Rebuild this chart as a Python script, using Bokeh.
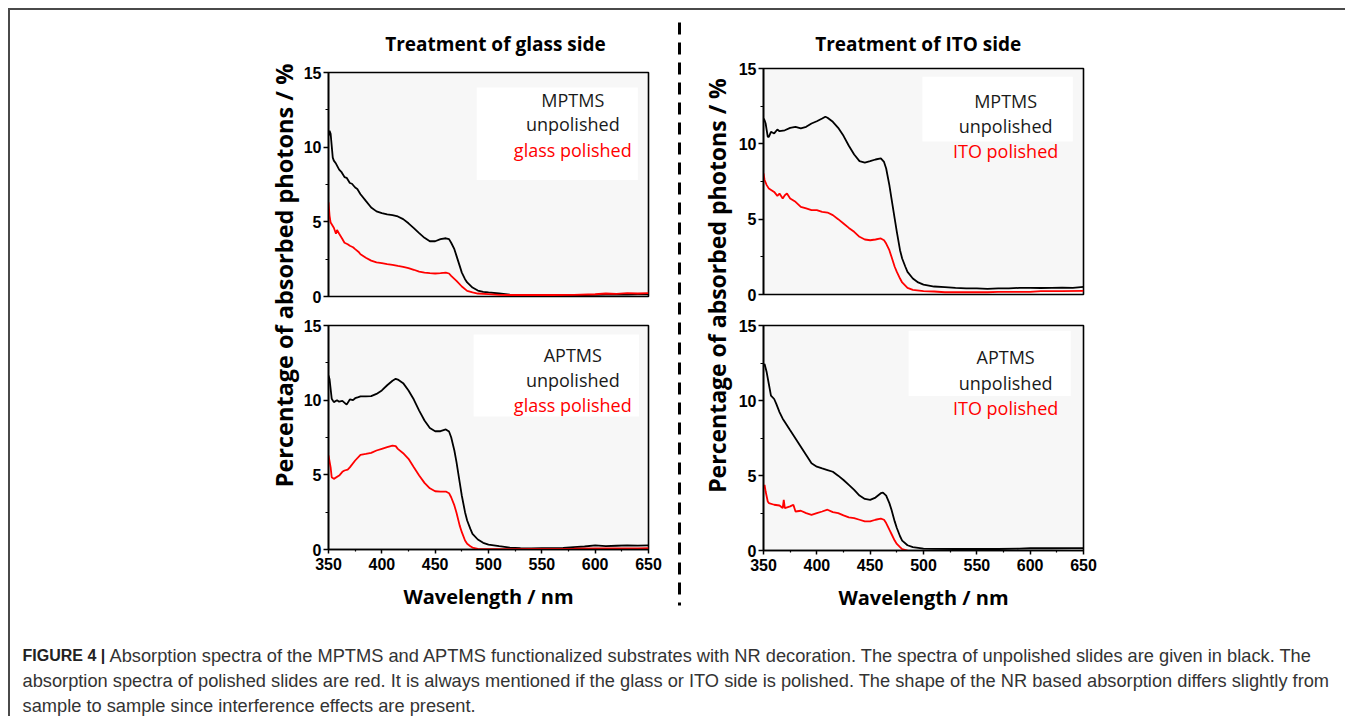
from math import pi
from bokeh.plotting import figure
from bokeh.layouts import column, row
from bokeh.models import Range1d, FixedTicker, Spacer
from bokeh.core.properties import value
from bokeh.embed import file_html
from bokeh.resources import INLINE

# ---------------- data ----------------
TL_K_WL = [350, 351, 352, 354, 355, 357, 360, 362, 365, 367, 370, 372, 375, 377, 380, 385, 390, 395, 400, 405,
           410, 415, 420, 425, 430, 435, 440, 445, 450, 455, 460, 463, 465, 468, 470, 473, 475, 478, 480, 485,
           490, 495, 500, 510, 520, 530, 540, 550, 560, 570, 580, 590, 600, 610, 620, 630, 640, 650]
TL_K = [10.75, 11.1, 10.9, 9.3, 9.1, 8.9, 8.5, 8.35, 8.0, 7.95, 7.6, 7.55, 7.3, 7.2, 6.85, 6.4, 5.96, 5.7, 5.58, 5.5,
        5.45, 5.36, 5.18, 4.9, 4.58, 4.24, 3.93, 3.7, 3.7, 3.84, 3.9, 3.84, 3.6, 3.17, 2.72, 2.05, 1.6, 1.16, 0.94, 0.6,
        0.4, 0.31, 0.27, 0.2, 0.13, 0.1, 0.09, 0.08, 0.08, 0.09, 0.1, 0.1, 0.11, 0.12, 0.12, 0.13, 0.14, 0.15]
TL_R_WL = [350, 351, 352, 355, 357, 358, 360, 363, 365, 368, 370, 373, 375, 378, 380, 385, 390, 395, 400, 405,
           410, 415, 420, 425, 430, 435, 440, 445, 450, 455, 460, 463, 465, 470, 475, 480, 485, 490, 500, 510,
           520, 540, 560, 580, 600, 610, 620, 630, 640, 650]
TL_R = [6.3, 5.4, 4.95, 4.6, 4.2, 4.45, 4.2, 3.85, 3.6, 3.5, 3.4, 3.3, 3.17, 3.0, 2.83, 2.6, 2.4, 2.28, 2.23, 2.17,
        2.12, 2.05, 1.99, 1.9, 1.79, 1.67, 1.6, 1.56, 1.54, 1.56, 1.6, 1.54, 1.38, 1.05, 0.67, 0.38, 0.27, 0.2, 0.16, 0.11,
        0.1, 0.1, 0.1, 0.11, 0.15, 0.2, 0.18, 0.22, 0.2, 0.22]

BL_K_WL = [350, 351, 353, 355, 358, 360, 363, 367, 370, 373, 375, 378, 380, 385, 390, 395, 400, 405, 410, 413,
           415, 420, 425, 430, 435, 440, 445, 450, 455, 460, 463, 465, 468, 470, 473, 475, 478, 480, 483, 485,
           490, 495, 500, 510, 520, 530, 540, 550, 560, 570, 580, 590, 600, 610, 620, 630, 640, 650]
BL_K = [11.65, 11.4, 10.1, 9.87, 10.0, 9.9, 9.95, 9.7, 10.05, 10.0, 10.13, 10.2, 10.25, 10.25, 10.27, 10.42, 10.65, 11.0, 11.3, 11.43,
        11.38, 11.14, 10.65, 10.04, 9.3, 8.64, 8.13, 7.92, 7.92, 8.04, 7.9, 7.52, 6.63, 5.85, 4.5, 3.6, 2.5, 1.94, 1.38, 1.05,
        0.67, 0.45, 0.33, 0.22, 0.13, 0.09, 0.08, 0.09, 0.09, 0.1, 0.16, 0.2, 0.27, 0.22, 0.25, 0.27, 0.26, 0.28]
BL_R_WL = [350, 352, 353, 355, 360, 363, 365, 368, 370, 375, 380, 385, 390, 395, 400, 405, 410, 413, 415, 420,
           425, 430, 435, 440, 445, 450, 455, 460, 463, 465, 468, 470, 473, 475, 478, 480, 483, 485, 490, 500,
           520, 540, 560, 580, 600, 620, 640, 650]
BL_R = [6.3, 5.5, 4.84, 4.73, 4.95, 5.2, 5.29, 5.35, 5.5, 5.96, 6.34, 6.4, 6.47, 6.63, 6.74, 6.85, 6.96, 6.92, 6.74, 6.45,
        6.07, 5.51, 4.96, 4.46, 4.1, 3.9, 3.88, 3.88, 3.77, 3.5, 2.95, 2.46, 1.6, 1.16, 0.6, 0.38, 0.22, 0.13, 0.04, 0.03,
        0.03, 0.04, 0.04, 0.05, 0.07, 0.08, 0.08, 0.09]

TR_K_WL = [350, 351, 352, 354, 355, 357, 360, 363, 365, 370, 375, 380, 385, 390, 395, 400, 405, 408, 410, 415,
           420, 425, 430, 435, 440, 445, 450, 455, 460, 463, 465, 468, 470, 473, 475, 478, 480, 483, 485, 490,
           495, 500, 510, 520, 530, 540, 550, 560, 570, 580, 590, 600, 610, 620, 630, 640, 650]
TR_K = [11.68, 11.57, 11.35, 10.46, 10.46, 10.8, 10.69, 10.95, 10.84, 10.9, 11.06, 11.13, 11.02, 11.13, 11.35, 11.5, 11.68, 11.8, 11.73, 11.46,
        11.06, 10.53, 9.87, 9.29, 8.85, 8.76, 8.85, 8.96, 9.03, 8.8, 8.36, 7.26, 6.37, 5.04, 4.16, 2.94, 2.39, 1.84, 1.5, 1.06,
        0.8, 0.66, 0.53, 0.49, 0.44, 0.4, 0.4, 0.38, 0.4, 0.4, 0.44, 0.44, 0.43, 0.44, 0.45, 0.44, 0.5]
TR_R_WL = [350, 351, 353, 355, 360, 363, 365, 368, 370, 372, 375, 380, 385, 390, 395, 400, 405, 410, 415, 420,
           425, 430, 435, 440, 445, 450, 455, 460, 463, 465, 468, 470, 473, 475, 478, 480, 485, 490, 500, 510,
           520, 540, 560, 570, 590, 600, 610, 630, 650]
TR_R = [8.03, 7.6, 7.26, 7.04, 6.81, 6.55, 6.7, 6.37, 6.59, 6.7, 6.37, 6.15, 5.82, 5.71, 5.6, 5.6, 5.49, 5.44, 5.27, 5.0,
        4.71, 4.42, 4.16, 3.83, 3.65, 3.6, 3.65, 3.72, 3.6, 3.38, 2.94, 2.5, 1.84, 1.5, 1.06, 0.8, 0.44, 0.31, 0.22, 0.2,
        0.15, 0.15, 0.15, 0.18, 0.18, 0.18, 0.22, 0.22, 0.24]

BR_K_WL = [350, 351, 353, 355, 357, 360, 362, 365, 368, 370, 375, 380, 385, 390, 395, 400, 405, 410, 415, 420,
           425, 430, 435, 440, 445, 450, 455, 460, 462, 465, 468, 470, 473, 475, 478, 480, 485, 490, 500, 510,
           530, 550, 570, 590, 600, 620, 640, 650]
BR_K = [12.3, 12.43, 11.88, 11.1, 10.33, 10.1, 9.78, 9.23, 8.79, 8.57, 8.01, 7.46, 6.91, 6.36, 5.81, 5.59, 5.47, 5.36, 5.25, 4.99,
        4.7, 4.37, 4.04, 3.66, 3.44, 3.38, 3.53, 3.82, 3.86, 3.66, 3.16, 2.72, 1.94, 1.5, 0.95, 0.66, 0.35, 0.22, 0.13, 0.11,
        0.1, 0.11, 0.1, 0.12, 0.15, 0.15, 0.16, 0.16]
BR_R_WL = [350, 351, 352, 354, 355, 360, 365, 368, 369, 370, 375, 378, 380, 385, 390, 395, 400, 405, 410, 415,
           420, 425, 430, 435, 440, 445, 450, 455, 460, 463, 465, 468, 470, 473, 475, 478, 480, 485]
BR_R = [4.15, 4.37, 3.93, 3.27, 3.16, 3.05, 3.0, 2.83, 3.38, 2.83, 2.94, 3.05, 2.6, 2.65, 2.49, 2.38, 2.49, 2.6, 2.72, 2.56,
        2.49, 2.34, 2.21, 2.16, 2.05, 1.94, 1.94, 2.05, 2.12, 2.05, 1.83, 1.39, 1.1, 0.66, 0.44, 0.22, 0.09, 0.0]

X_TICKS = [350, 400, 450, 500, 550, 600, 650]
X_MINOR = [375, 425, 475, 525, 575, 625]
Y_TICKS = [0, 5, 10, 15]
Y_MINOR = [2.5, 7.5, 12.5]

TITLES = ["Treatment of glass side", "Treatment of ITO side"]
Y_LABEL = "Percentage of absorbed photons / %"
X_LABEL = "Wavelength / nm"
LEGENDS = [["MPTMS", "unpolished", "glass polished"],
           ["APTMS", "unpolished", "glass polished"],
           ["MPTMS", "unpolished", "ITO polished"],
           ["APTMS", "unpolished", "ITO polished"]]
CAPTION_BOLD = "FIGURE 4 |"
CAPTION_LINES = [
    "Absorption spectra of the MPTMS and APTMS functionalized substrates with NR decoration. The spectra of unpolished slides are given in black. The",
    "absorption spectra of polished slides are red. It is always mentioned if the glass or ITO side is polished. The shape of the NR based absorption differs slightly from",
    "sample to sample since interference effects are present.",
]

BLACK = "#000000"
RED = "#ff0000"


def text_fig(w, h):
    p = figure(width=w, height=h, x_range=Range1d(0, w), y_range=Range1d(h, 0),
               x_axis_type=None, y_axis_type=None, toolbar_location=None,
               output_backend="svg", min_border=0, title=None)
    p.outline_line_color = None
    p.background_fill_color = "white"
    p.border_fill_color = "white"
    return p


def spec_fig(h, top, frame_h, bottom_axis, k_wl, k, r_wl, r, legend, box, txt_pos, red_on_top=True):
    W = 366
    p = figure(width=W, height=h, x_range=Range1d(350, 650), y_range=Range1d(0, 15),
               min_border_left=28, min_border_right=18, min_border_top=top,
               min_border_bottom=h - top - frame_h, toolbar_location=None,
               output_backend="svg", title=None)
    p.background_fill_color = "#f7f7f7"
    p.border_fill_color = "white"
    p.outline_line_color = "black"
    p.outline_line_width = 1.6
    p.outline_line_alpha = 1.0
    p.grid.visible = False

    ya = p.yaxis[0]
    ya.ticker = FixedTicker(ticks=Y_TICKS, minor_ticks=Y_MINOR)
    ya.axis_line_width = 1.6
    ya.major_tick_line_width = 1.5
    ya.minor_tick_line_width = 1.2
    ya.major_tick_out = 5
    ya.major_tick_in = 0
    ya.minor_tick_out = 3
    ya.minor_tick_in = 0
    ya.major_label_standoff = 2
    ya.major_label_text_font = "Liberation Sans"
    ya.major_label_text_font_style = "bold"
    ya.major_label_text_font_size = "16px"
    ya.major_label_text_color = "black"

    xa = p.xaxis[0]
    if bottom_axis:
        xa.ticker = FixedTicker(ticks=X_TICKS, minor_ticks=X_MINOR)
        xa.axis_line_width = 1.6
        xa.major_tick_line_width = 1.5
        xa.minor_tick_line_width = 1.2
        xa.major_tick_out = 4
        xa.major_tick_in = 0
        xa.minor_tick_out = 2
        xa.minor_tick_in = 0
        xa.major_label_standoff = 4
        xa.major_label_text_font = "Liberation Sans"
        xa.major_label_text_font_style = "bold"
        xa.major_label_text_font_size = "16px"
        xa.major_label_text_color = "black"
        xa.axis_label = X_LABEL
        xa.axis_label_text_font = "Open Sans"
        xa.axis_label_text_font_style = "bold"
        xa.axis_label_text_font_size = "20px"
        xa.axis_label_text_color = "black"
        xa.axis_label_standoff = 10
    else:
        xa.visible = False

    # white box behind the legend text
    p.quad(left=[box[0]], right=[box[1]], bottom=[box[2]], top=[box[3]],
           fill_color="white", line_color=None)

    if red_on_top:
        p.line(k_wl, k, line_color=BLACK, line_width=1.8)
        p.line(r_wl, r, line_color=RED, line_width=1.8)
    else:
        p.line(r_wl, r, line_color=RED, line_width=1.8)
        p.line(k_wl, k, line_color=BLACK, line_width=1.8)

    tx, ty = txt_pos
    p.text(x=[tx, tx, tx], y=ty, text=legend,
           text_color=["#1a1a1a", "#1a1a1a", RED],
           text_font=value("Open Sans"), text_font_size="18px",
           text_align="center", text_baseline="middle")
    return p


tl = spec_fig(250, 12, 224, False, TL_K_WL, TL_K, TL_R_WL, TL_R, LEGENDS[0],
              (489, 640, 7.8, 14.0), (579, [13.15, 11.57, 9.79]))
bl = spec_fig(310, 15, 224, True, BL_K_WL, BL_K, BL_R_WL, BL_R, LEGENDS[1],
              (486, 641, 8.9, 14.4), (579, [13.0, 11.34, 9.67]))
tr = spec_fig(254, 12, 226, False, TR_K_WL, TR_K, TR_R_WL, TR_R, LEGENDS[2],
              (499, 640, 10.15, 14.45), (577, [12.87, 11.21, 9.55]))
br = spec_fig(310, 15, 225, True, BR_K_WL, BR_K, BR_R_WL, BR_R, LEGENDS[3],
              (486, 638, 10.3, 14.65), (577, [12.87, 11.2, 9.53]), red_on_top=False)

TOP_H = 610

# headers
hL = text_fig(366, 50)
hL.text(x=[191], y=[33], text=[TITLES[0]], text_font=value("Open Sans"), text_font_style="bold",
        text_font_size="19px", text_align="center", text_baseline="middle", text_color="black")
hR = text_fig(366, 46)
hR.text(x=[177], y=[33], text=[TITLES[1]], text_font=value("Open Sans"), text_font_style="bold",
        text_font_size="19px", text_align="center", text_baseline="middle", text_color="black")

# y labels
yl_L = text_fig(290, TOP_H)
yl_L.text(x=[273], y=[265], text=[Y_LABEL], angle=pi / 2, text_font=value("Open Sans"),
          text_font_style="bold", text_font_size="23.5px", text_align="center",
          text_baseline="middle", text_color="black")
yl_R = text_fig(35, TOP_H)
yl_R.text(x=[16], y=[275], text=[Y_LABEL], angle=pi / 2, text_font=value("Open Sans"),
          text_font_style="bold", text_font_size="23px", text_align="center",
          text_baseline="middle", text_color="black")

# dashed divider
div = text_fig(34, TOP_H)
div.line(x=[13, 13], y=[12, 595], line_color="black", line_width=3, line_dash="12 8")

left_col = column(hL, tl, bl)
right_col = column(hR, tr, br)
top_row = row(yl_L, left_col, div, yl_R, right_col, Spacer(width=237, height=TOP_H))

# caption
cap = text_fig(1328, 96)
cap.text(x=[12], y=[35], text=[CAPTION_BOLD], text_font=value("Liberation Sans"), text_font_style="bold",
         text_font_size="16px", text_align="left", text_baseline="middle", text_color="#222222")
cap.text(x=[99, 12, 12], y=[35, 60, 85], text=CAPTION_LINES, text_font=value("Liberation Sans"),
         text_font_size="18.25px", text_align="left", text_baseline="middle", text_color="#333333")

content = column(top_row, cap)
framed = column(
    Spacer(width=1337, height=2, styles={"background-color": "#4a4a4a"}),
    row(Spacer(width=2, height=706, styles={"background-color": "#4a4a4a"}), content),
)
root = column(
    Spacer(width=1345, height=8),
    row(Spacer(width=8, height=708), framed),
)

open("out.html", "w").write(file_html(root, INLINE))
